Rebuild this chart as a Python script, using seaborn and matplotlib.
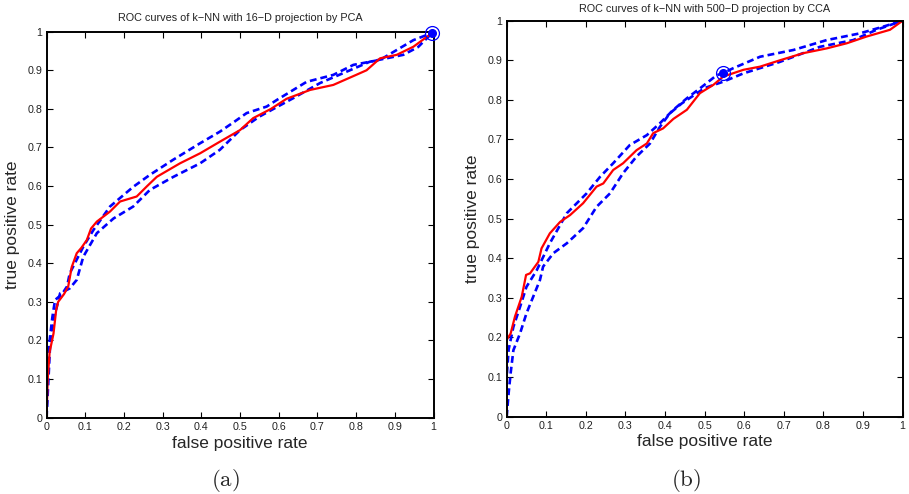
import numpy as np
import pandas as pd
import seaborn as sns
import matplotlib
matplotlib.use("Agg")
import matplotlib.pyplot as plt

# ---- ROC data: k-NN with 16-D PCA projection ----
pca_mean_fpr = [0, 0.003, 0.008, 0.018, 0.025, 0.03, 0.045, 0.056, 0.065, 0.078, 0.09, 0.104,
                0.115, 0.13, 0.164, 0.19, 0.233, 0.26, 0.285, 0.345, 0.397, 0.448, 0.5, 0.534,
                0.58, 0.62, 0.681, 0.741, 0.80, 0.827, 0.862, 0.905, 0.948, 0.997]
pca_mean_tpr = [0, 0.10, 0.17, 0.218, 0.28, 0.30, 0.32, 0.34, 0.39, 0.426, 0.44, 0.46,
                0.49, 0.508, 0.534, 0.56, 0.573, 0.60, 0.624, 0.659, 0.685, 0.715, 0.745, 0.776,
                0.80, 0.826, 0.849, 0.862, 0.888, 0.90, 0.931, 0.94, 0.961, 0.997]

pca_upper_fpr = [0, 0.003, 0.008, 0.015, 0.022, 0.04, 0.053, 0.06, 0.095, 0.121, 0.164, 0.224,
                 0.267, 0.327, 0.397, 0.448, 0.483, 0.517, 0.569, 0.595, 0.672, 0.741, 0.793,
                 0.862, 0.948, 0.997]
pca_upper_tpr = [0, 0.12, 0.20, 0.26, 0.305, 0.32, 0.34, 0.374, 0.443, 0.486, 0.547, 0.598,
                 0.629, 0.668, 0.711, 0.741, 0.765, 0.789, 0.806, 0.823, 0.870, 0.888, 0.914,
                 0.927, 0.978, 0.997]

pca_lower_fpr = [0, 0.005, 0.009, 0.02, 0.035, 0.06, 0.078, 0.095, 0.13, 0.173, 0.224, 0.267,
                 0.328, 0.397, 0.448, 0.5, 0.55, 0.638, 0.707, 0.784, 0.835, 0.922, 0.96, 0.997]
pca_lower_tpr = [0, 0.10, 0.184, 0.26, 0.322, 0.335, 0.357, 0.417, 0.478, 0.516, 0.547, 0.59,
                 0.624, 0.659, 0.694, 0.745, 0.78, 0.828, 0.867, 0.90, 0.922, 0.94, 0.96, 0.997]

pca_point = (0.997, 0.997)

# ---- ROC data: k-NN with 500-D CCA projection ----
cca_mean_fpr = [0, 0.0, 0.01, 0.021, 0.038, 0.049, 0.059, 0.08, 0.088, 0.109, 0.135, 0.16,
                0.193, 0.227, 0.244, 0.269, 0.294, 0.328, 0.354, 0.37, 0.395, 0.421, 0.455,
                0.488, 0.522, 0.547, 0.598, 0.64, 0.69, 0.749, 0.808, 0.859, 0.909, 0.968, 1.0]
cca_mean_tpr = [0, 0.194, 0.21, 0.253, 0.303, 0.358, 0.362, 0.391, 0.425, 0.463, 0.492, 0.509,
                0.539, 0.581, 0.589, 0.623, 0.64, 0.673, 0.69, 0.716, 0.728, 0.752, 0.775,
                0.817, 0.838, 0.859, 0.876, 0.884, 0.90, 0.918, 0.93, 0.943, 0.96, 0.977, 1.0]

cca_upper_fpr = [0, 0.0, 0.005, 0.017, 0.034, 0.05, 0.076, 0.109, 0.152, 0.202, 0.236, 0.269,
                 0.311, 0.354, 0.387, 0.421, 0.455, 0.488, 0.53, 0.547, 0.572, 0.64, 0.724,
                 0.808, 0.892, 0.951, 1.0]
cca_upper_tpr = [0, 0.10, 0.17, 0.227, 0.278, 0.328, 0.37, 0.438, 0.514, 0.564, 0.606, 0.64,
                 0.686, 0.711, 0.741, 0.775, 0.804, 0.829, 0.862, 0.868, 0.88, 0.909, 0.926,
                 0.951, 0.968, 0.985, 1.0]

cca_lower_fpr = [0, 0.005, 0.01, 0.017, 0.034, 0.05, 0.067, 0.084, 0.092, 0.118, 0.152, 0.193,
                 0.227, 0.261, 0.294, 0.328, 0.362, 0.387, 0.412, 0.442, 0.5, 0.547, 0.598,
                 0.69, 0.791, 0.875, 0.934, 1.0]
cca_lower_tpr = [0, 0.06, 0.11, 0.168, 0.211, 0.261, 0.303, 0.345, 0.379, 0.413, 0.438, 0.476,
                 0.53, 0.564, 0.615, 0.657, 0.69, 0.732, 0.766, 0.791, 0.83, 0.846, 0.867,
                 0.896, 0.934, 0.951, 0.977, 1.0]

cca_point = (0.547, 0.867)

titles = ["ROC curves of k\u2212NN with 16\u2212D projection by PCA",
          "ROC curves of k\u2212NN with 500\u2212D projection by CCA"]
captions = ["(a)", "(b)"]
ticks = [0, 0.1, 0.2, 0.3, 0.4, 0.5, 0.6, 0.7, 0.8, 0.9, 1]
tick_labels = ["0", "0.1", "0.2", "0.3", "0.4", "0.5", "0.6", "0.7", "0.8", "0.9", "1"]

sns.set_theme(style="white")
plt.rcParams["font.family"] = ["Liberation Sans", "DejaVu Sans"]
plt.rcParams["mathtext.fontset"] = "cm"

fig = plt.figure(figsize=(9.09, 4.94), dpi=100)
axes = [fig.add_axes([0.0512, 0.1545, 0.4257, 0.7814]),
        fig.add_axes([0.5574, 0.1565, 0.4356, 0.8016])]

panels = [
    (pca_mean_fpr, pca_mean_tpr, pca_upper_fpr, pca_upper_tpr, pca_lower_fpr, pca_lower_tpr, pca_point),
    (cca_mean_fpr, cca_mean_tpr, cca_upper_fpr, cca_upper_tpr, cca_lower_fpr, cca_lower_tpr, cca_point),
]
title_pads = [7.5, 6.5]
xlabel_y = [-0.047, -0.044]
ylabel_x = [-0.069, -0.068]

dash = (0, (2.6, 1.5))
for i, (ax, (mf, mt, uf, ut, lf, lt, pt), title) in enumerate(zip(axes, panels, titles)):
    for fx, ty in ((uf, ut), (lf, lt)):
        df = pd.DataFrame({"fpr": fx, "tpr": ty})
        sns.lineplot(data=df, x="fpr", y="tpr", ax=ax, sort=False, estimator=None,
                     color="#0000ff", lw=1.9, linestyle=dash)
    df = pd.DataFrame({"fpr": mf, "tpr": mt})
    sns.lineplot(data=df, x="fpr", y="tpr", ax=ax, sort=False, estimator=None,
                 color="#ff0000", lw=1.6)
    # operating point: filled dot inside a ring
    ax.plot([pt[0]], [pt[1]], "o", ms=10, mfc="none", mec="#0000ff", mew=0.9, clip_on=False, zorder=5)
    ax.plot([pt[0]], [pt[1]], "o", ms=5.5, mfc="#0000ff", mec="#0000ff", clip_on=False, zorder=6)

    ax.set_xlim(0, 1)
    ax.set_ylim(0, 1)
    ax.set_xticks(ticks)
    ax.set_yticks(ticks)
    ax.set_xticklabels(tick_labels)
    ax.set_yticklabels(tick_labels)
    ax.tick_params(axis="both", which="major", direction="in", bottom=True, left=True,
                   top=True, right=True, length=4, width=0.8, colors="black",
                   labelsize=7.7, labelcolor="#222222")
    ax.tick_params(axis="x", pad=3)
    ax.tick_params(axis="y", pad=3)
    for s in ax.spines.values():
        s.set_visible(True)
        s.set_color("black")
        s.set_linewidth(1.4)
    ax.set_xlabel("false positive rate", fontsize=12.5)
    ax.set_ylabel("true positive rate", fontsize=12.5)
    ax.xaxis.set_label_coords(0.5, xlabel_y[i])
    ax.yaxis.set_label_coords(ylabel_x[i], 0.5)
    ax.set_title(title, fontsize=7.8, pad=title_pads[i], color="#222222")

fig.text(0.2486, 0.028, r"$\mathrm{(a)}$", ha="center", va="center", fontsize=16.5)
fig.text(0.7543, 0.028, r"$\mathrm{(b)}$", ha="center", va="center", fontsize=16.5)

fig.savefig("out.png", dpi=100, facecolor="white")
